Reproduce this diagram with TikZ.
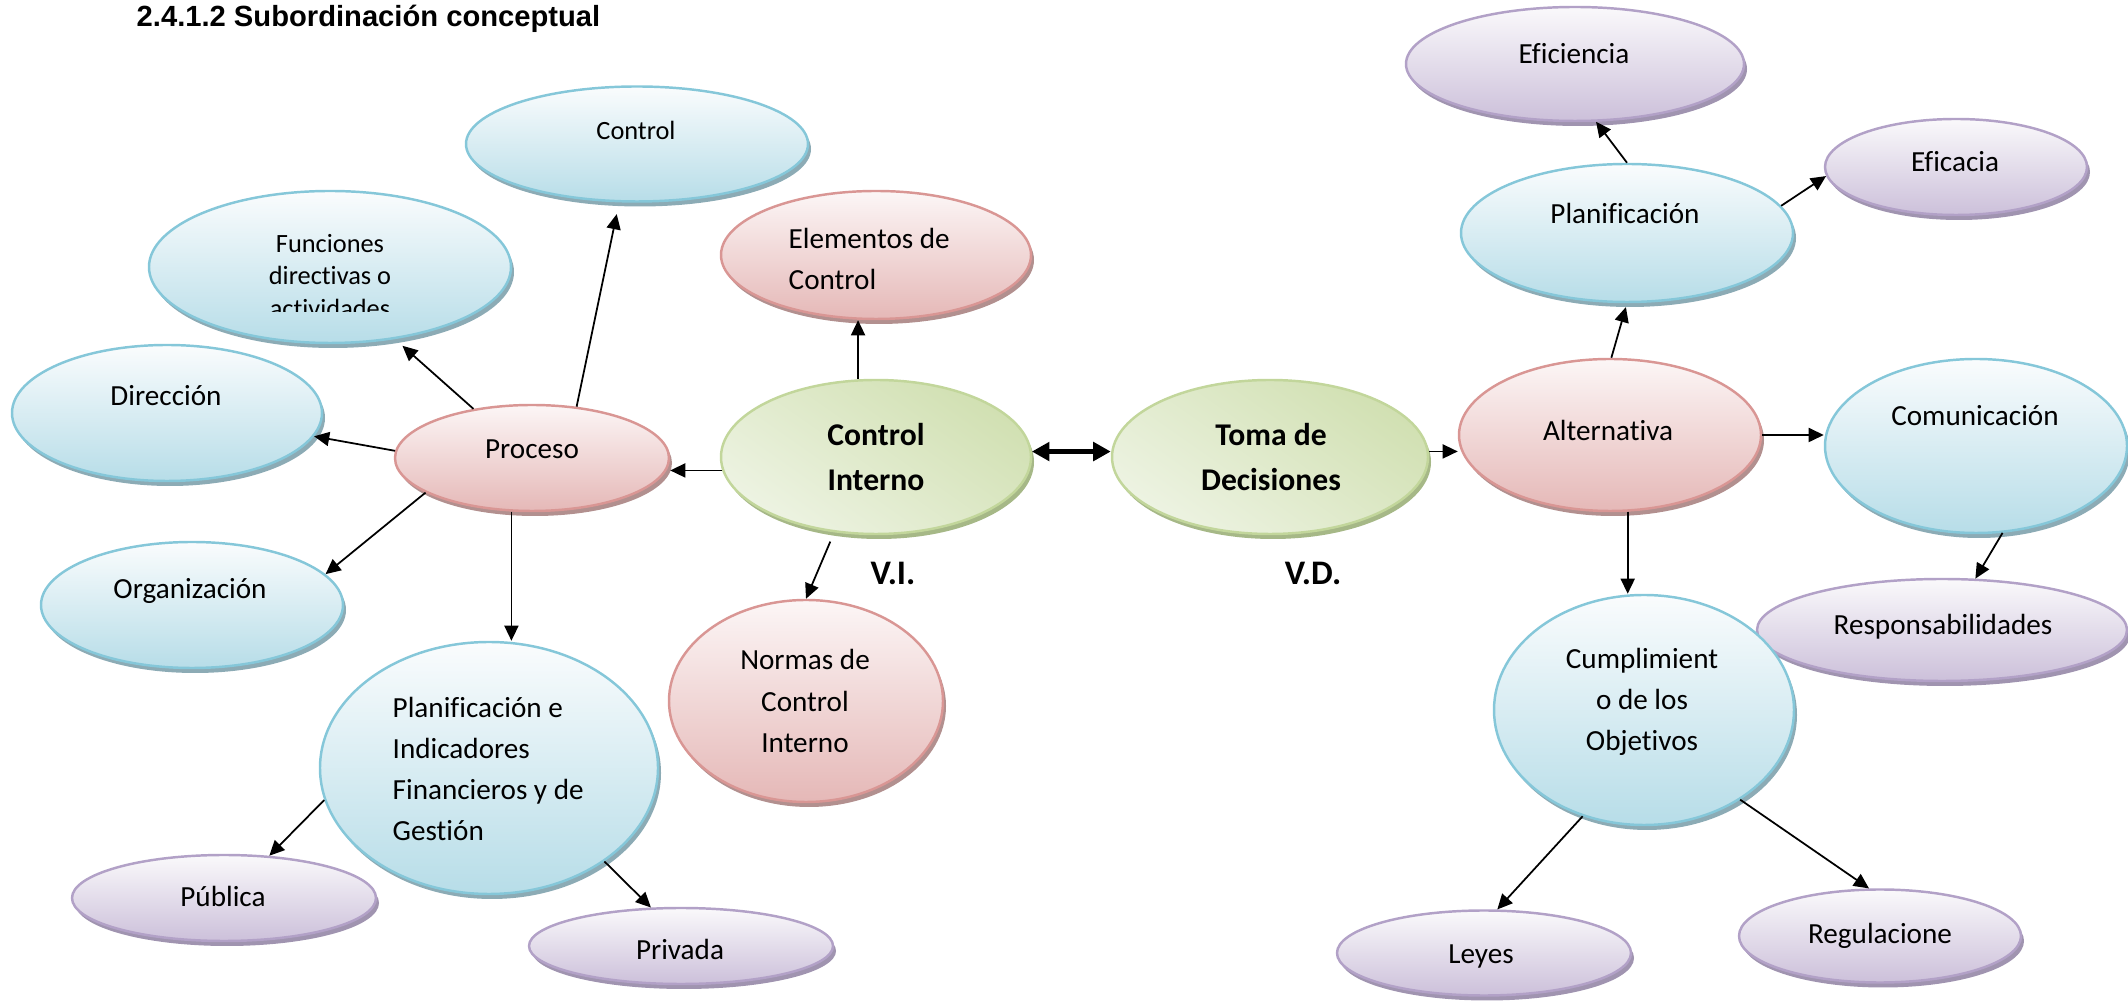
\documentclass[tikz,border=0pt]{standalone}
\usepackage{fontspec}
\setmainfont{Carlito}[Ligatures=NoCommon]
\newfontfamily\arialfont{Liberation Sans}
\usetikzlibrary{shapes.geometric,shadows,arrows.meta}

\definecolor{azulborde}{RGB}{133,199,217}
\definecolor{azularriba}{RGB}{250,252,253}
\definecolor{azulabajo}{RGB}{183,221,232}
\definecolor{azulsombra}{RGB}{140,171,181}
\definecolor{rojoborde}{RGB}{217,150,148}
\definecolor{rojoarriba}{RGB}{252,246,246}
\definecolor{rojoabajo}{RGB}{229,184,183}
\definecolor{rojosombra}{RGB}{178,144,143}
\definecolor{lilaborde}{RGB}{178,161,199}
\definecolor{lilaarriba}{RGB}{250,249,251}
\definecolor{lilaabajo}{RGB}{204,192,218}
\definecolor{lilasombra}{RGB}{160,148,176}
\definecolor{verdeborde}{RGB}{194,214,155}
\definecolor{verdeoscuro}{RGB}{209,224,178}
\definecolor{verdeclaro}{RGB}{237,243,226}
\definecolor{verdesombra}{RGB}{166,184,135}

\tikzset{
	ell/.style={ellipse, inner sep=0pt, line width=0.7pt},
	azul/.style={ell, draw=azulborde, top color=azularriba, bottom color=azulabajo,
		general shadow={fill=azulsombra, shadow xshift=0.3mm, shadow yshift=-0.5mm}},
	rojo/.style={ell, draw=rojoborde, top color=rojoarriba, bottom color=rojoabajo,
		general shadow={fill=rojosombra, shadow xshift=0.3mm, shadow yshift=-0.5mm}},
	lila/.style={ell, draw=lilaborde, top color=lilaarriba, bottom color=lilaabajo,
		general shadow={fill=lilasombra, shadow xshift=0.3mm, shadow yshift=-0.5mm}},
	verde/.style={ell, draw=verdeborde, top color=verdeoscuro, bottom color=verdeclaro, shading angle=-35,
		general shadow={fill=verdesombra, shadow xshift=0.3mm, shadow yshift=-0.5mm}},
	txt/.style={inner sep=0pt, font=\fontsize{8.3}{11.7}\selectfont},
	negrita/.style={inner sep=0pt, align=center, font=\bfseries\fontsize{9}{12.8}\selectfont},
	titulo/.style={inner sep=0pt, anchor=base west, font=\arialfont\bfseries\fontsize{8.3}{10}\selectfont},
	flecha/.style={-{Triangle[length=4.3pt,width=4pt]}, line width=0.5pt},
	flecha doble/.style={{Triangle[length=5pt,width=5.2pt]}-{Triangle[length=5pt,width=5.2pt]}, line width=1.4pt}
}

\begin{document}
\begin{tikzpicture}[x=1mm,y=-1mm]
	\useasboundingbox (0,0) rectangle (212.8,100.6);
	\node[titulo] (titulo) at (13.6,2.7) {2.4.1.2 Subordinación conceptual};

	% variable independiente
	\node[azul, minimum width=34.2mm, minimum height=11.5mm] (control) at (63.7,14.4) {};
	\node[azul, minimum width=36.2mm, minimum height=15.2mm] (funciones) at (33.0,26.7) {};
	\node[azul, minimum width=31.0mm, minimum height=13.6mm] (direccion) at (16.7,41.3) {};
	\node[rojo, minimum width=27.4mm, minimum height=10.6mm] (proceso) at (53.2,45.8) {};
	\node[azul, minimum width=30.2mm, minimum height=12.6mm] (organizacion) at (19.2,60.5) {};
	\node[azul, minimum width=33.8mm, minimum height=25.2mm] (planind) at (48.9,76.8) {};
	\node[lila, minimum width=30.4mm, minimum height=8.6mm] (publica) at (22.4,89.8) {};
	\node[lila, minimum width=30.4mm, minimum height=7.6mm] (privada) at (68.1,94.6) {};
	\node[rojo, minimum width=31.0mm, minimum height=12.8mm] (elementos) at (87.6,25.5) {};
	\node[verde, minimum width=31.0mm, minimum height=15.4mm] (ci) at (87.6,45.7) {};
	\node[rojo, minimum width=27.4mm, minimum height=20.2mm] (normas) at (80.6,70.1) {};

	% variable dependiente
	\node[verde, minimum width=31.6mm, minimum height=15.4mm] (toma) at (127.0,45.7) {};
	\node[rojo, minimum width=30.2mm, minimum height=15.2mm] (alternativa) at (161.0,43.5) {};
	\node[azul, minimum width=33.2mm, minimum height=13.8mm] (planr) at (162.7,23.3) {};
	\node[lila, minimum width=33.8mm, minimum height=11.4mm] (eficiencia) at (157.5,6.4) {};
	\node[lila, minimum width=26.2mm, minimum height=9.6mm] (eficacia) at (195.6,16.7) {};
	\node[azul, minimum width=30.2mm, minimum height=17.4mm] (comunicacion) at (197.6,44.6) {};
	\node[lila, minimum width=37.0mm, minimum height=10.2mm] (responsab) at (194.2,63.0) {};
	\node[azul, minimum width=30.0mm, minimum height=23.0mm] (cumplimiento) at (164.4,71.0) {};
	\node[lila, minimum width=29.4mm, minimum height=8.5mm] (leyes) at (148.4,95.3) {};
	\node[lila, minimum width=28.2mm, minimum height=9.3mm] (regulacione) at (188.0,93.6) {};

	\node[txt, anchor=base, font=\fontsize{7.5}{9.1}\selectfont] (controltxt) at (63.6,14.0) {Control};
	\begin{scope}
		\clip (14.9,22.0) rectangle (51.2,31.2);
		\node[txt, align=center, font=\fontsize{7.5}{9.2}\selectfont] (funcionestxt) at (33.0,27.6) {Funciones\\directivas o\\actividades};
	\end{scope}
	\node[txt, anchor=base] (direcciontxt) at (16.6,40.6) {Dirección};
	\node[txt, anchor=base] (procesotxt) at (53.2,45.9) {Proceso};
	\node[txt, anchor=base] (organizaciontxt) at (19.0,59.9) {Organización};
	\node[txt, anchor=west, align=left] (planindtxt) at (39.2,76.9) {Planificación e\\Indicadores\\Financieros y de\\Gestión};
	\node[txt, anchor=base] (publicatxt) at (22.3,90.7) {Pública};
	\node[txt, anchor=base] (privadatxt) at (68.0,96.0) {Privada};
	\node[txt, anchor=west, align=left] (elementostxt) at (78.8,25.9) {Elementos de\\Control};
	\node[negrita] (citxt) at (87.6,45.7) {Control\\Interno};
	\node[txt, align=center] (normastxt) at (80.5,70.1) {Normas de\\Control\\Interno};
	\node[negrita] (tomatxt) at (127.1,45.7) {Toma de\\Decisiones};
	\node[negrita, anchor=base, font=\bfseries\fontsize{9.8}{12}\selectfont] (vi) at (89.3,58.5) {V.I.};
	\node[negrita, anchor=base, font=\bfseries\fontsize{9.8}{12}\selectfont] (vd) at (131.3,58.5) {V.D.};
	\node[txt, anchor=base] (alternativatxt) at (160.8,44.1) {Alternativa};
	\node[txt, anchor=base] (planrtxt) at (162.5,22.4) {Planificación};
	\node[txt, anchor=base] (eficienciatxt) at (157.4,6.4) {Eficiencia};
	\node[txt, anchor=base] (eficaciatxt) at (195.5,17.2) {Eficacia};
	\node[txt, anchor=base] (comunicaciontxt) at (197.5,42.6) {Comunicación};
	\node[txt, anchor=base] (responsabtxt) at (194.3,63.5) {Responsabilidades};
	\node[txt, align=center] (cumplimientotxt) at (164.2,70.2) {Cumplimient\\o de los\\Objetivos};
	\node[txt, anchor=base] (leyestxt) at (148.1,96.4) {Leyes};
	\node[txt, anchor=base] (regulacionetxt) at (188.0,94.4) {Regulacione};

	\draw[flecha, shorten >=1.2mm] (proceso.49) -- (control.253);
	\draw[flecha, shorten >=1mm] (proceso.140) -- (funciones.312);
	\draw[flecha] (proceso.177) -- (direccion.351);
	\draw[flecha] (proceso.198) -- (organizacion.13);
	\draw[flecha] (proceso.249) -- (proceso.249 |- planind.north);
	\draw[flecha] (planind.191) -- (publica.43);
	\draw[flecha] (planind.321) -- (privada.128);
	\draw[flecha] (ci.185) -- (ci.185 -| proceso.east);
	\draw[flecha] (ci.103) -- (ci.103 |- elementos.south);
	\draw[flecha, shorten <=1mm] (ci.241) -- (normas.north);
	\draw[flecha doble] (ci.2) -- (ci.2 -| toma.west);
	\draw[flecha] (toma.2) -- (toma.2 -| alternativa.west);
	\draw[flecha, shorten >=0.4mm] (alternativa.89) -- (planr.south);
	\draw[flecha] (planr.north) -- (eficiencia.290);
	\draw[flecha] (planr.10) -- (eficacia.184);
	\draw[flecha] (alternativa.east) -- (alternativa.east -| comunicacion.west);
	\draw[flecha] (comunicacion.287) -- (responsab.57);
	\draw[flecha] (alternativa.283) -- (alternativa.283 |- cumplimiento.north);
	\draw[flecha] (cumplimiento.240) -- (leyes.73);
	\draw[flecha] (cumplimiento.317) -- (regulacione.103);
\end{tikzpicture}
\end{document}
